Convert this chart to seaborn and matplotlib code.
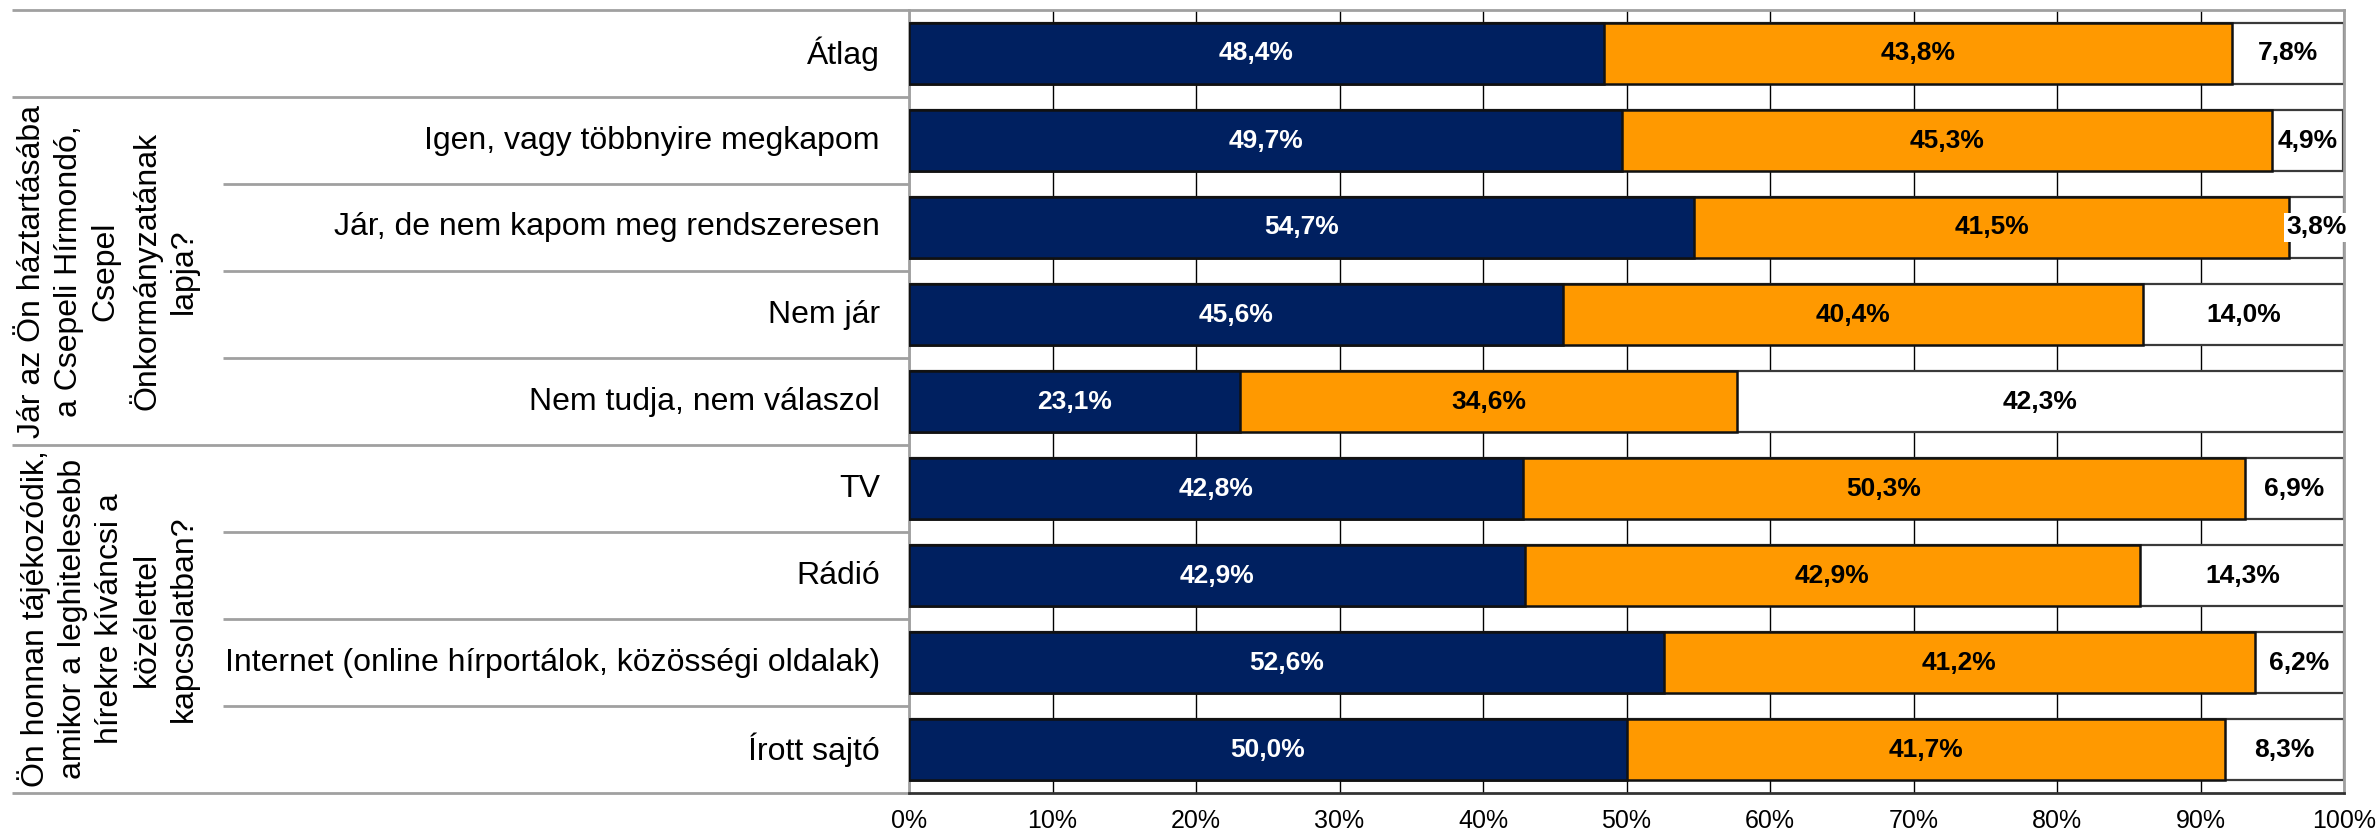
import matplotlib
matplotlib.use("Agg")
import matplotlib.pyplot as plt
import matplotlib.transforms as mtransforms
import seaborn as sns
import pandas as pd
import numpy as np

# --- data -------------------------------------------------------------
categories = [
    "Átlag",
    "Igen, vagy többnyire megkapom",
    "Jár, de nem kapom meg rendszeresen",
    "Nem jár",
    "Nem tudja, nem válaszol",
    "TV",
    "Rádió",
    "Internet (online hírportálok, közösségi oldalak)",
    "Írott sajtó",
]
share_first = [48.4, 49.7, 54.7, 45.6, 23.1, 42.8, 42.9, 52.6, 50.0]
share_second = [43.8, 45.3, 41.5, 40.4, 34.6, 50.3, 42.9, 41.2, 41.7]
share_third = [7.8, 4.9, 3.8, 14.0, 42.3, 6.9, 14.3, 6.2, 8.3]

group_titles = [
    "Jár az Ön háztartásába\na Csepeli Hírmondó,\nCsepel\nÖnkormányzatának\nlapja?",
    "Ön honnan tájékozódik,\namikor a leghitelesebb\nhírekre kíváncsi a\nközélettel\nkapcsolatban?",
]
group_rows = [(1, 4), (5, 8)]
x_ticks = [0, 10, 20, 30, 40, 50, 60, 70, 80, 90, 100]

NAVY = "#002060"
ORANGE = "#FF9900"

# --- style ------------------------------------------------------------
sns.set_theme(style="white")
plt.rcParams["font.family"] = ["Liberation Sans", "DejaVu Sans"]

W, H = 2376, 838
fig = plt.figure(figsize=(W / 100, H / 100), dpi=100)
x0, x1, y_top, y_bot = 909, 2344, 10, 793
ax = fig.add_axes([x0 / W, 1 - y_bot / H, (x1 - x0) / W, (y_bot - y_top) / H])

df = pd.DataFrame({
    "cat": categories,
    "a": share_first,
    "b": share_second,
    "c": share_third,
})
df["ab"] = df["a"] + df["b"]
df["abc"] = df["ab"] + df["c"]

bar_w = 0.71
sns.barplot(data=df, y="cat", x="abc", orient="h", color="white", saturation=1,
            edgecolor="#3a3a3a", linewidth=1.6, width=bar_w, ax=ax, zorder=2)
sns.barplot(data=df, y="cat", x="ab", orient="h", color=ORANGE, saturation=1,
            edgecolor="#111111", linewidth=1.8, width=bar_w, ax=ax, zorder=3)
sns.barplot(data=df, y="cat", x="a", orient="h", color=NAVY, saturation=1,
            edgecolor="#111111", linewidth=1.8, width=bar_w, ax=ax, zorder=4)

ax.set_xlim(0, 100)
ax.set_ylim(len(categories) - 0.5, -0.5)
ax.set_xlabel("")
ax.set_ylabel("")
ax.set_xticks(x_ticks)
ax.set_xticklabels([f"{t}%" for t in x_ticks], fontsize=18)
ax.tick_params(axis="x", direction="out", length=6.5, width=1, color="#333333",
               pad=5, labelcolor="black")
ax.set_yticks(range(len(categories)))
ax.set_yticklabels([])
ax.tick_params(axis="y", length=0)

ax.set_axisbelow(True)
ax.xaxis.grid(True, color="black", linewidth=1)
ax.yaxis.grid(False)

for side in ("top", "right", "left"):
    ax.spines[side].set_color("#a0a0a0")
    ax.spines[side].set_linewidth(2)
ax.spines["bottom"].set_color("#333333")
ax.spines["bottom"].set_linewidth(2)

# --- value labels -----------------------------------------------------
fmt = lambda v: f"{v:.1f}%".replace(".", ",")
for i in range(len(categories)):
    a, b, c = share_first[i], share_second[i], share_third[i]
    ax.text(a / 2, i, fmt(a), ha="center", va="center", color="white",
            fontsize=19, fontweight="bold", zorder=6)
    ax.text(a + b / 2, i, fmt(b), ha="center", va="center", color="black",
            fontsize=19, fontweight="bold", zorder=6)
    bbox = None
    if c < 6:
        bbox = dict(facecolor="white", edgecolor="none", pad=2)
    ax.text(a + b + c / 2, i, fmt(c), ha="center", va="center", color="black",
            fontsize=19, fontweight="bold", zorder=6, bbox=bbox, clip_on=False)

# --- row labels and grouping ------------------------------------------
tr = mtransforms.blended_transform_factory(ax.transAxes, ax.transData)
to_frac = lambda px: (px - x0) / (x1 - x0)

for i, name in enumerate(categories):
    ax.text(to_frac(880), i, name, transform=tr, ha="right", va="center",
            fontsize=23, color="black")

group_edges = {-0.5, 0.5, 4.5, 8.5}
for k in range(len(categories) + 1):
    yb = k - 0.5
    start = to_frac(12) if yb in group_edges else to_frac(223)
    ax.plot([start, 0], [yb, yb], transform=tr, color="#a0a0a0", lw=2,
            clip_on=False, solid_capstyle="butt", zorder=1)

for title, (r0, r1) in zip(group_titles, group_rows):
    ax.text(to_frac(108), (r0 + r1) / 2, title, transform=tr, rotation=90,
            ha="center", va="center", multialignment="center",
            fontsize=23, linespacing=1.3, color="black")

fig.savefig("out.png", dpi=100, facecolor="white")
